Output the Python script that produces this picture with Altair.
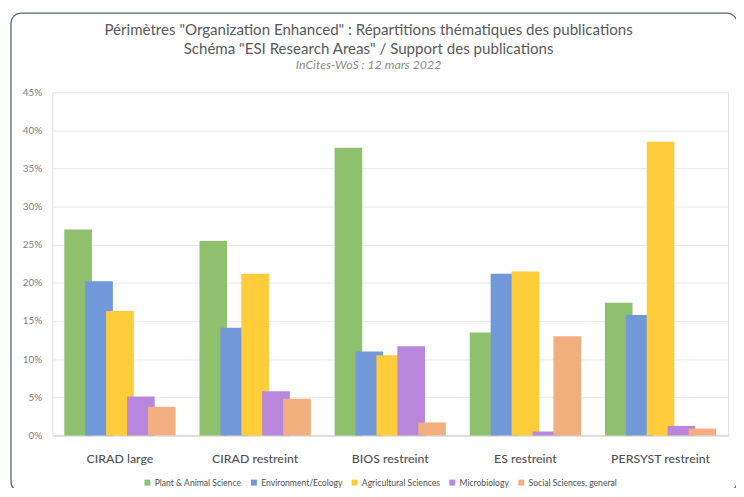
import altair as alt
import pandas as pd

categories = ["CIRAD large", "CIRAD restreint", "BIOS restreint", "ES restreint", "PERSYST restreint"]
series = ["Plant & Animal Science", "Environment/Ecology", "Agricultural Sciences",
          "Microbiology", "Social Sciences, general"]
colors = ["#8FC06E", "#7199D9", "#FFCC3A", "#B887DD", "#F3AE80"]

plant_animal = [0.270, 0.255, 0.377, 0.135, 0.174]
environment = [0.202, 0.141, 0.110, 0.212, 0.158]
agricultural = [0.163, 0.212, 0.105, 0.215, 0.385]
microbiology = [0.051, 0.058, 0.117, 0.005, 0.0125]
social = [0.0375, 0.048, 0.017, 0.130, 0.009]

values = [plant_animal, environment, agricultural, microbiology, social]
rows = []
for si, s in enumerate(series):
    for ci, c in enumerate(categories):
        rows.append({"cat": c, "serie": s, "order": si, "val": values[si][ci]})
df = pd.DataFrame(rows)

W, H = 685, 348
FONT = "Lato"

bars = alt.Chart(df).mark_bar(width=28).encode(
    x=alt.X("cat:N", sort=categories, title=None,
            scale=alt.Scale(paddingInner=0.226, paddingOuter=0.113),
            axis=alt.Axis(labelAngle=0, labelFontSize=12.5, labelColor="#505050",
                          labelFont=FONT, labelPadding=17, ticks=False, grid=False,
                          gridOpacity=0, domainColor="#d0d0d0", labelFontWeight=500)),
    xOffset=alt.XOffset("serie:N", sort=series,
                        scale=alt.Scale(paddingInner=0, paddingOuter=0)),
    y=alt.Y("val:Q", title=None,
            scale=alt.Scale(domain=[0, 0.45], nice=False),
            axis=alt.Axis(format=".0%", values=[i * 0.05 for i in range(10)],
                          labelFontSize=10, labelColor="#808080", labelFont=FONT,
                          labelPadding=11, ticks=False, domain=False, domainOpacity=0,
                          gridColor="#ebebeb")),
    color=alt.Color("serie:N", sort=series,
                    scale=alt.Scale(domain=series, range=colors),
                    legend=alt.Legend(title=None, orient="none", direction="horizontal",
                                      legendX=92, legendY=391, symbolType="square",
                                      symbolSize=36, symbolStrokeWidth=0,
                                      labelFontSize=8.7, labelColor="#505050",
                                      labelFont=FONT, columnPadding=8, symbolOffset=0,
                                      labelOffset=3)),
    order=alt.Order("order:Q"),
)

border = alt.Chart(pd.DataFrame({"a": [0]})).mark_rect(
    fill=None, stroke="#55657e", strokeWidth=1.3, cornerRadius=10
).encode(x=alt.value(-42), x2=alt.value(694), y=alt.value(-80), y2=alt.value(405))

chart = alt.layer(bars, border).properties(
    width=W, height=H,
    title=alt.TitleParams(
        text=["Périmètres \"Organization Enhanced\" : Répartitions thématiques des publications",
              "Schéma \"ESI Research Areas\" / Support des publications"],
        subtitle="InCites-WoS : 12 mars 2022",
        font=FONT, fontSize=15.3, fontWeight="normal", color="#595959",
        subtitleFont=FONT, subtitleFontSize=12.5, subtitleFontStyle="italic",
        subtitleColor="#8c8c8c", lineHeight=19, subtitlePadding=2,
        anchor="middle", dx=-22, offset=-60,
    ),
    autosize=alt.AutoSizeParams(type="none"),
    padding={"left": 45, "top": 82, "right": 8, "bottom": 50},
).configure_view(strokeWidth=0, strokeOpacity=0).configure_axisY(domain=False).configure(background="white")

chart.save("out.html", embed_options={"renderer": "svg", "actions": False})
